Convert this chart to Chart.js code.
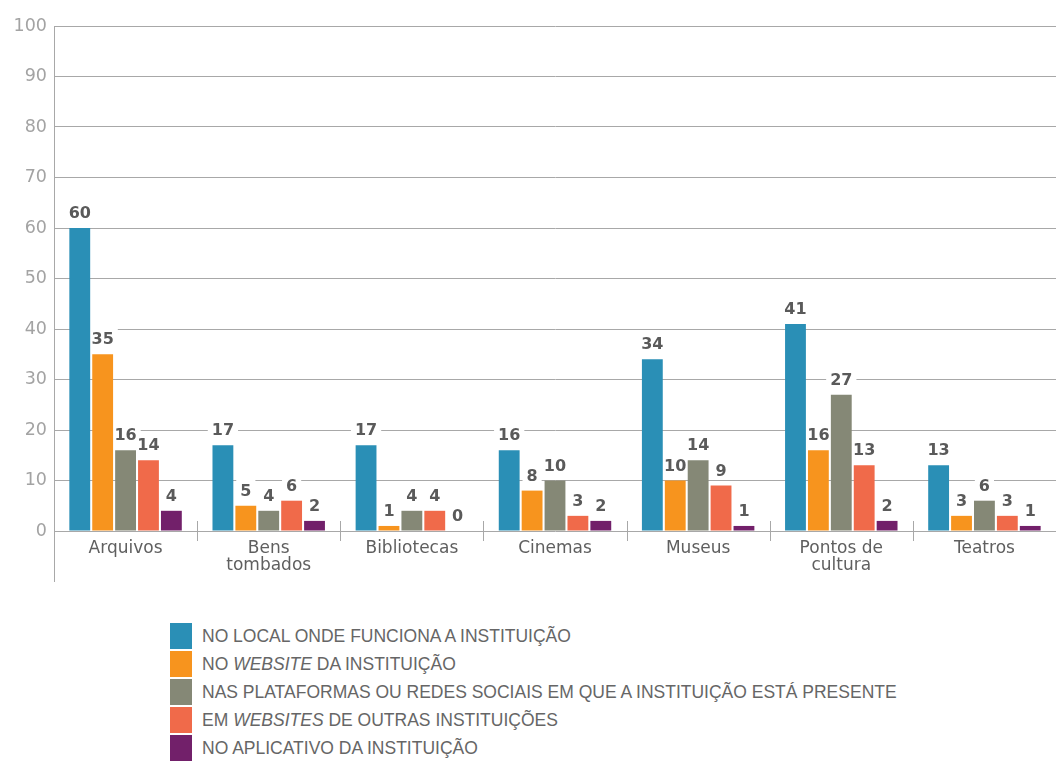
<!DOCTYPE html>
<html>
<head>
<meta charset="utf-8">
<script src="https://cdn.jsdelivr.net/npm/chart.js@4"></script>
<style>
  body { margin: 0; background: #fff; }
  #wrap { position: relative; width: 1056px; height: 600px; }
  #legend { margin: 22px 0 0 170px; font-family: "Liberation Sans", Arial, sans-serif; font-size: 17.5px; color: #666; }
  .item { display: flex; align-items: center; height: 28px; }
  .box { width: 22px; height: 26px; margin-right: 10px; }
</style>
</head>
<body>
<div id="wrap"><canvas id="chart" width="1056" height="600"></canvas></div>
<div id="legend"></div>
<script>
const categories = [['Arquivos'], ['Bens', 'tombados'], ['Bibliotecas'], ['Cinemas'], ['Museus'], ['Pontos de', 'cultura'], ['Teatros']];

const localValues = [60, 17, 17, 16, 34, 41, 13];
const websiteValues = [35, 5, 1, 8, 10, 16, 3];
const socialValues = [16, 4, 4, 10, 14, 27, 6];
const otherSitesValues = [14, 6, 4, 3, 9, 13, 3];
const appValues = [4, 2, 0, 2, 1, 2, 1];

const seriesLabels = [
    'NO LOCAL ONDE FUNCIONA A INSTITUIÇÃO',
    'NO WEBSITE DA INSTITUIÇÃO',
    'NAS PLATAFORMAS OU REDES SOCIAIS EM QUE A INSTITUIÇÃO ESTÁ PRESENTE',
    'EM WEBSITES DE OUTRAS INSTITUIÇÕES',
    'NO APLICATIVO DA INSTITUIÇÃO'
];
// same labels with the italic words marked for the html legend
const seriesLabelsHtml = [
    'NO LOCAL ONDE FUNCIONA A INSTITUIÇÃO',
    'NO <i>WEBSITE</i> DA INSTITUIÇÃO',
    'NAS PLATAFORMAS OU REDES SOCIAIS EM QUE A INSTITUIÇÃO ESTÁ PRESENTE',
    'EM <i>WEBSITES</i> DE OUTRAS INSTITUIÇÕES',
    'NO APLICATIVO DA INSTITUIÇÃO'
];
const colors = ['#2a8fb6', '#f7941e', '#858876', '#f06a4a', '#72206a'];
const yTicks = [0, 10, 20, 30, 40, 50, 60, 70, 80, 90, 100];

const allValues = [localValues, websiteValues, socialValues, otherSitesValues, appValues];

const labelFont = 'bold 16px "DejaVu Sans", sans-serif';

// white boxes behind value labels (drawn under the bars), then the text on top
const valueLabels = {
    id: 'valueLabels',
    beforeDatasetsDraw(chart) {
        const ctx = chart.ctx;
        ctx.save();
        ctx.font = labelFont;
        ctx.fillStyle = '#fff';
        chart.data.datasets.forEach((ds, i) => {
            chart.getDatasetMeta(i).data.forEach((bar, j) => {
                const txt = String(ds.data[j]);
                const w = ctx.measureText(txt).width;
                ctx.fillRect(bar.x - w / 2 - 4, bar.y - 26, w + 8, 18);
            });
        });
        ctx.restore();
    },
    afterDatasetsDraw(chart) {
        const ctx = chart.ctx;
        ctx.save();
        ctx.font = labelFont;
        ctx.fillStyle = '#5a5a5a';
        ctx.textAlign = 'center';
        ctx.textBaseline = 'alphabetic';
        chart.data.datasets.forEach((ds, i) => {
            chart.getDatasetMeta(i).data.forEach((bar, j) => {
                ctx.fillText(String(ds.data[j]), bar.x, bar.y - 10);
            });
        });
        ctx.restore();
    },
    afterDraw(chart) {
        const ctx = chart.ctx;
        const area = chart.chartArea;
        const x = chart.scales.x;
        ctx.save();
        ctx.strokeStyle = '#a8a8a8';
        ctx.lineWidth = 1;
        ctx.beginPath();
        // y axis goes on below the baseline
        ctx.moveTo(area.left + 0.5, area.bottom);
        ctx.lineTo(area.left + 0.5, area.bottom + 51);
        // small separators between the groups
        for (let i = 1; i < categories.length; i++) {
            const px = Math.round((x.getPixelForValue(i - 1) + x.getPixelForValue(i)) / 2) + 0.5;
            ctx.moveTo(px, area.bottom - 10);
            ctx.lineTo(px, area.bottom + 10);
        }
        ctx.stroke();
        ctx.restore();
    }
};

const datasets = allValues.map((vals, i) => ({
    label: seriesLabels[i],
    data: vals,
    backgroundColor: colors[i],
    borderWidth: 0,
    categoryPercentage: 0.8,
    barPercentage: 0.91
}));

new Chart(document.getElementById('chart'), {
    type: 'bar',
    data: { labels: categories, datasets: datasets },
    options: {
        responsive: false,
        animation: false,
        layout: { padding: { top: 26, right: 0 } },
        plugins: {
            legend: { display: false },
            tooltip: { enabled: false }
        },
        scales: {
            x: {
                grid: { display: false, drawTicks: false },
                border: { display: false },
                ticks: {
                    color: '#5f5f5f',
                    font: { family: '"DejaVu Sans", sans-serif', size: 17, lineHeight: 1 },
                    padding: 9,
                    maxRotation: 0,
                    autoSkip: false
                },
                afterFit: s => { s.height = 69; }
            },
            y: {
                min: 0,
                max: 100,
                afterBuildTicks: s => { s.ticks = yTicks.map(v => ({ value: v })); },
                grid: { color: '#a8a8a8', lineWidth: 1, drawTicks: false },
                border: { color: '#a8a8a8' },
                ticks: {
                    color: '#a3a3a3',
                    font: { family: '"DejaVu Sans", sans-serif', size: 17.5 },
                    padding: 7
                },
                afterFit: s => { s.width = 54; }
            }
        }
    },
    plugins: [valueLabels]
});

// legend list under the chart
const legend = document.getElementById('legend');
seriesLabelsHtml.forEach((txt, i) => {
    const row = document.createElement('div');
    row.className = 'item';
    row.innerHTML = '<span class="box" style="background:' + colors[i] + '"></span><span>' + txt + '</span>';
    legend.appendChild(row);
});
</script>
</body>
</html>
